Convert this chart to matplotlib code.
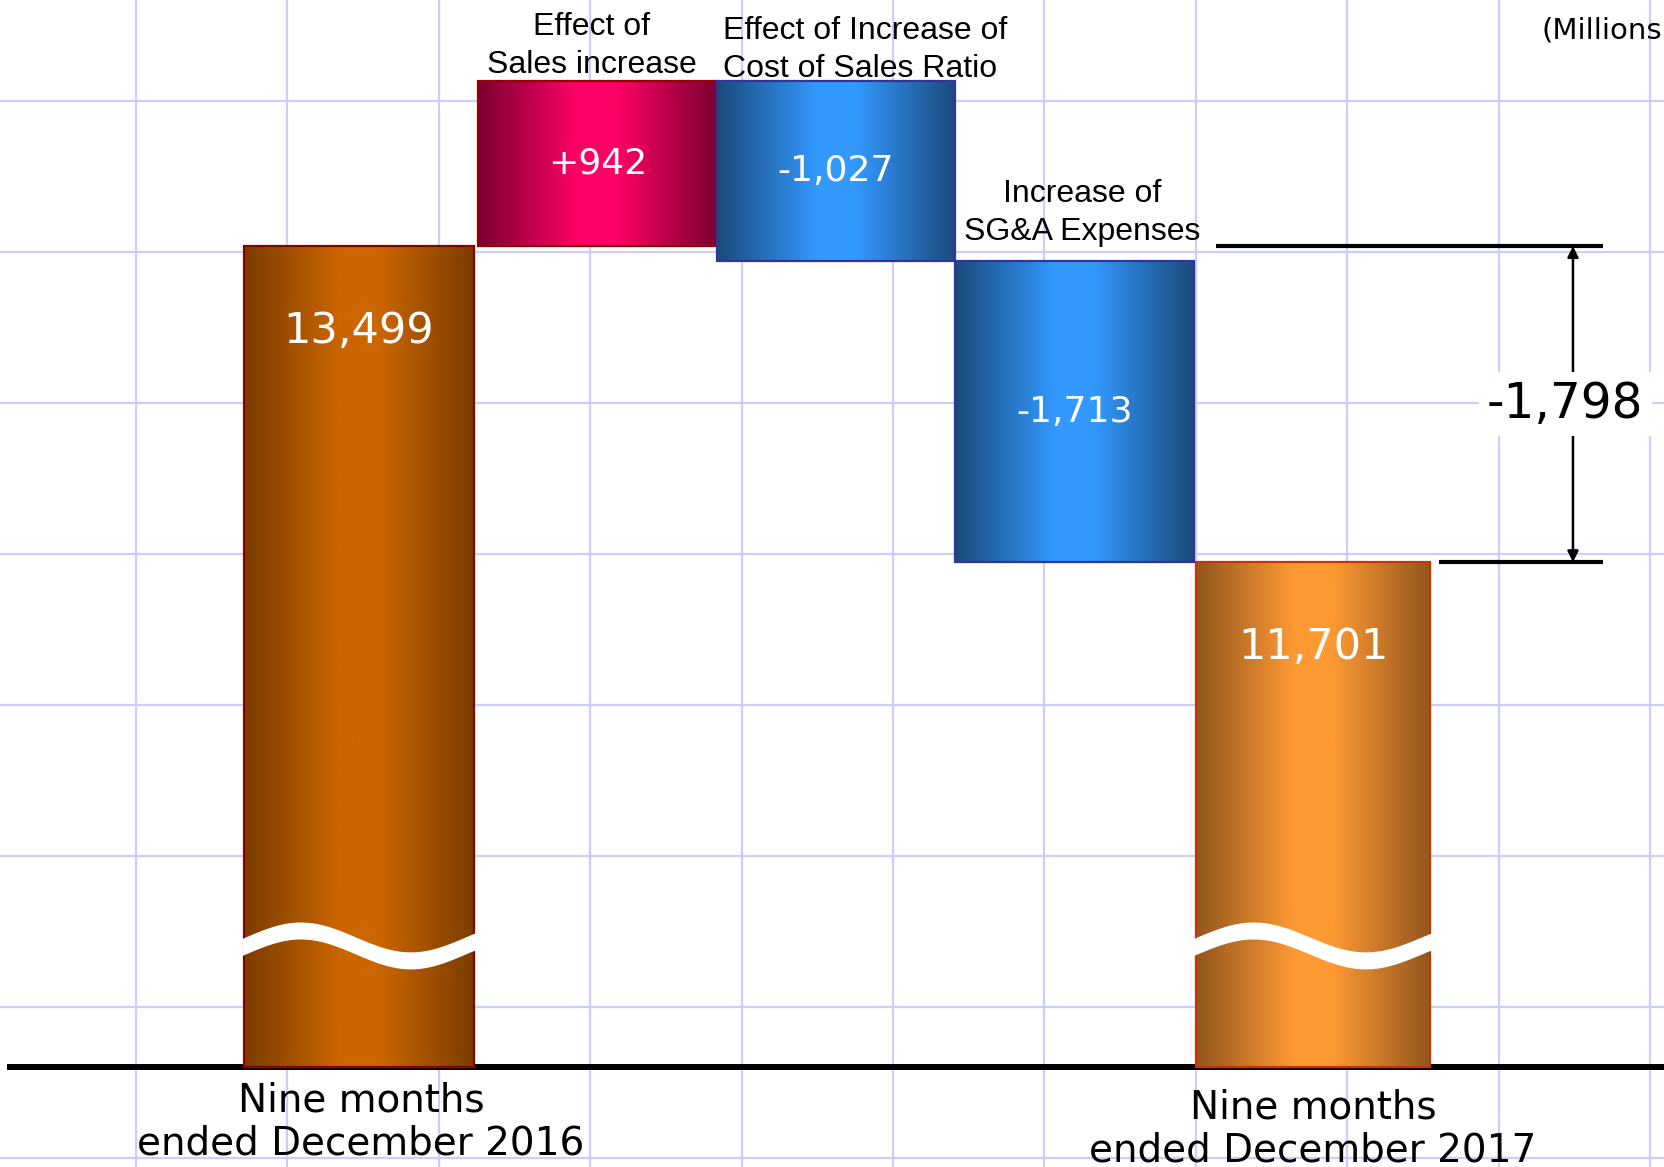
#waterfall of operating income change, nine months 2016 -> 2017 (millions of yen)
import numpy as np
import matplotlib.pyplot as plt
from matplotlib.colors import LinearSegmentedColormap

#data
categories=['Nine months\nended December 2016','Effect of\nSales increase',
            'Effect of Increase of\nCost of Sales Ratio','Increase of\nSG&A Expenses',
            'Nine months\nended December 2017']
values=[13499,942,-1027,-1713,11701]
value_labels=['13,499','+942','-1,027','-1,713','11,701']
is_total=[True,False,False,False,True]
diff_label='-1,798'
unit_label='(Millions'

#broken axis: visible floor of the bars and where the wave break sits
floor=8828
break_level=9568

W,H=1664,1167
fig=plt.figure(figsize=(W/100,H/100),dpi=100)

#background grid paper
bg=fig.add_axes([0,0,1,1])
bg.set_xlim(0,W)
bg.set_ylim(H,0)
bg.axis('off')
for gx in np.arange(135.8,W,151.44):
    bg.axvline(gx,color='#ccccff',lw=1.6)
for gy in np.arange(101,H,151):
    bg.axhline(gy,color='#ccccff',lw=1.6)

ax=fig.add_axes([0,0,1,1])
ax.axis('off')

#bar extents
bottoms=[];heights=[]
run=values[0]
for v,tot in zip(values,is_total):
    if tot:
        bottoms.append(floor);heights.append(v-floor)
    else:
        bottoms.append(min(run,run+v));heights.append(abs(v))
        run+=v

styles=[('#7a3c00','#cc6600','#8b0000'),
        ('#7a0030','#ff0066','#990000'),
        ('#1b4a7c','#3399ff','#333399'),
        ('#1b4a7c','#3399ff','#333399'),
        ('#92561e','#ff9933','#cc3300')]
widths=[0.965,1.0,1.0,1.0,0.985]

x=np.arange(len(values))
grad=np.linspace(0,1,256).reshape(1,-1)
for i in range(len(values)):
    dark,bright,edge=styles[i]
    bar=ax.bar(x[i],heights[i],bottom=bottoms[i],width=widths[i],
               facecolor='none',edgecolor=edge,lw=1.6,zorder=3)[0]
    cmap=LinearSegmentedColormap.from_list('g',[(0,dark),(0.42,bright),(0.58,bright),(1,dark)])
    x0=x[i]-widths[i]/2;x1=x[i]+widths[i]/2
    im=ax.imshow(grad,cmap=cmap,extent=[x0,x1,bottoms[i],bottoms[i]+heights[i]],
                 aspect='auto',interpolation='bicubic',zorder=2)
    im.set_clip_path(bar)
    if is_total[i]:
        #wavy white break
        t=np.linspace(0,1,200)
        xs=x0-0.008+t*(x1-x0+0.016)
        upper=break_level+85*np.cos(2*np.pi*(t-0.25)/0.94)
        ax.fill_between(xs,upper-97,upper,color='white',lw=0,zorder=4)
        ax.annotate(value_labels[i],(x[i],values[i]),xytext=(0,-61),textcoords='offset points',
                    ha='center',va='center',color='white',fontsize=31,zorder=5)
    else:
        ax.text(x[i],bottoms[i]+heights[i]/2,value_labels[i],ha='center',va='center',
                color='white',fontsize=26,zorder=5)

s=0.17572
ax.set_xlim(-1.5052,-1.5052+W/238.5)
ax.set_ylim(13263.75-(H-287.5)/s,13263.75+287.5/s)

#baseline
ax.axhline(floor,xmin=10/W,color='black',lw=4.3,zorder=1.5)

#difference marker
start,end=values[0],values[-1]
ax.hlines(start,3.593,5.216,color='black',lw=3,zorder=3)
ax.hlines(end,4.528,5.216,color='black',lw=3,zorder=3)
ax.annotate('',xy=(5.09,end),xytext=(5.09,start),
            arrowprops=dict(arrowstyle='<|-|>',color='black',lw=1.8,mutation_scale=16,
                            shrinkA=0,shrinkB=0),zorder=3)
ax.text(5.057,(start+end)/2,diff_label,ha='center',va='center',fontsize=35,color='black',
        bbox=dict(fc='white',ec='none',pad=6),zorder=5)

#category labels (pixel positions)
def fpos(px,py):
    return px/W,1-py/H
arial='Liberation Sans'
fig.text(*fpos(592,46),categories[1],ha='center',va='center',fontsize=23,family=arial,linespacing=1.38)
fig.text(*fpos(723,50),categories[2],ha='left',va='center',fontsize=23,family=arial,linespacing=1.35)
fig.text(*fpos(1082,213),categories[3],ha='center',va='center',fontsize=23,family=arial,linespacing=1.35)
fig.text(*fpos(1542,31),unit_label,ha='left',va='center',fontsize=21)
fig.text(*fpos(361,1122),categories[0],ha='center',va='center',fontsize=28,linespacing=1.18)
fig.text(*fpos(1313,1129),categories[4],ha='center',va='center',fontsize=28,linespacing=1.18)

fig.savefig('out.png',dpi=100)
